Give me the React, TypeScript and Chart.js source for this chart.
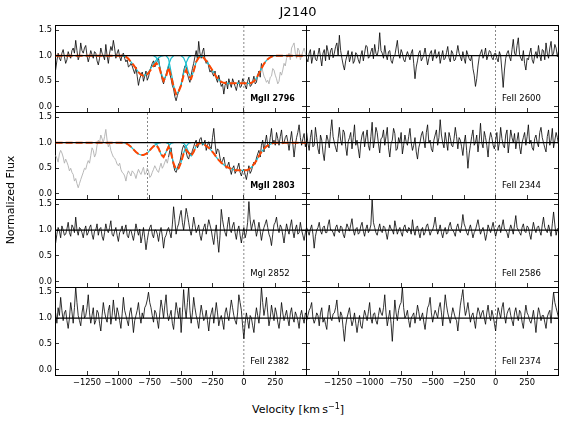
import React, { useEffect, useRef } from "react";
import { Chart, registerables } from "chart.js";

Chart.register(...registerables);

const FONT = "'DejaVu Sans', 'Liberation Sans', sans-serif";
Chart.defaults.font.family = FONT;

// ---------- axes ----------
const SPEC_STEP = 10; // km/s per pixel of the observed spectra
const MODEL_STEP = 20; // km/s per sample of the fitted profiles
const X_MIN = -1505;
const X_MAX = 495;
const Y_MIN = -0.1;
const Y_MAX = 1.6;
const X_TICKS = [-1250, -1000, -750, -500, -250, 0, 250];
const Y_TICKS = [0, 0.5, 1.0, 1.5];
const CONTINUUM = 1.0;
const LABEL_V = 50;
const LABEL_FLUX = 0.16;
const MGII_DOUBLET_V = -769;

// ---------- MgII 2796 ----------
const MGII2796_BLACK_START = -1500;
const MGII2796_BLACK = [
  0.72, 0.9, 1.05, 0.95, 0.9, 1.05, 1.12, 0.98, 0.85, 0.92, 1.08, 1.0, 0.95, 1.1, 1.15, 1.05, 1.3, 1.1, 0.92, 1.0,
  1.25, 1.1, 1.05, 1.15, 1.2, 1.0, 0.88, 0.98, 1.1, 1.02, 0.95, 1.08, 1.05, 0.9, 0.82, 0.95, 1.15, 1.05, 1.0, 0.92,
  1.22, 1.0, 0.85, 1.05, 1.18, 1.1, 1.3, 1.15, 0.95, 1.05, 1.12, 0.98, 0.9, 1.02, 1.05, 0.95, 0.88, 0.92, 0.78, 0.8,
  0.85, 0.8, 0.72, 0.65, 0.78, 0.6, 0.42, 0.55, 0.62, 0.68, 0.5, 0.6, 0.7, 0.52, 0.58, 0.7, 0.78, 0.85, 0.9, 0.78,
  0.82, 0.9, 0.95, 0.78, 0.65, 0.52, 0.45, 0.55, 0.62, 0.72, 0.8, 0.65, 0.55, 0.42, 0.35, 0.2, 0.12, 0.22, 0.3, 0.38,
  0.42, 0.55, 0.7, 0.8, 0.78, 0.65, 0.55, 0.48, 0.62, 0.75, 0.85, 0.98, 1.1, 0.92, 1.28, 1.05, 0.95, 1.08, 1.15, 0.92,
  0.85, 0.9, 0.78, 0.68, 0.72, 0.65, 0.6, 0.7, 0.55, 0.48, 0.62, 0.5, 0.4, 0.45, 0.25, 0.42, 0.5, 0.35, 0.55, 0.45,
  0.38, 0.55, 0.48, 0.4, 0.32, 0.45, 0.52, 0.38, 0.4, 0.55, 0.5, 0.42, 0.35, 0.5, 0.58, 0.4, 0.42, 0.5, 0.6, 0.45,
  0.48, 0.62, 0.7, 0.58, 0.85,
];
const MGII2796_GREY_START = 140;
const MGII2796_GREY = [
  0.85, 0.7, 0.6, 0.55, 0.48, 0.52, 0.45, 0.58, 0.6, 0.75, 0.72, 0.62, 0.55, 0.45, 0.5, 0.68, 0.62, 0.72, 0.85, 0.8,
  0.95, 1.0, 1.05, 0.92, 1.15, 1.2, 1.25, 1.05, 0.95, 1.15, 1.1, 0.92, 1.0, 1.08, 1.15, 1.05, 0.98,
];
const MODEL_START = -1500;
const MODEL_2796 = [
  1, 1, 1, 1, 1, 1, 1, 1, 1, 1,
  1, 1, 1, 1, 1, 1, 1, 1, 1, 1,
  1, 1, 1, 1, 1, 1, 1, 1,
  0.98, 0.94, 0.88, 0.82, 0.75, 0.68, 0.63, 0.61, 0.62, 0.66,
  0.73, 0.8, 0.85, 0.82, 0.65, 0.51, 0.6, 0.77, 0.6, 0.4,
  0.25, 0.3, 0.42, 0.62, 0.72, 0.6, 0.55, 0.7, 0.88, 0.96,
  0.99, 0.96, 0.9, 0.83, 0.75, 0.67, 0.59, 0.53, 0.49, 0.47,
  0.46, 0.46, 0.46, 0.46, 0.46, 0.46, 0.46, 0.46, 0.46, 0.46,
  0.47, 0.5, 0.56, 0.65, 0.75, 0.84, 0.91, 0.95, 0.98, 1.0,
  1, 1, 1, 1, 1, 1, 1, 1, 1, 1, 1, 1, 1,
];
const COMP_2796_1 = [1.0, 0.99, 0.98, 0.94, 0.88, 0.82, 0.75, 0.68, 0.63, 0.61, 0.63, 0.68, 0.76, 0.84, 0.91, 0.96, 0.99, 1.0];
const COMP_2796_2 = [1.0, 0.97, 0.88, 0.68, 0.52, 0.62, 0.82, 0.95, 1.0];
const COMP_2796_3 = [1.0, 0.94, 0.68, 0.42, 0.25, 0.3, 0.45, 0.66, 0.86, 0.97, 1.0];
const COMP_2796_4 = [1.0, 0.96, 0.84, 0.66, 0.57, 0.7, 0.88, 0.97, 1.0];
const COMP_2796_5 = [
  1.0, 0.99, 0.99, 0.96, 0.9, 0.83, 0.75, 0.67, 0.59, 0.53, 0.49, 0.47,
  0.46, 0.46, 0.46, 0.46, 0.46, 0.46, 0.46, 0.46, 0.46, 0.46,
  0.47, 0.5, 0.56, 0.65, 0.75, 0.84, 0.91, 0.95, 0.98, 1.0,
];
const COMP_STARTS = [-980, -720, -620, -500, -380];

// ---------- MgII 2803 ----------
const MGII2803_GREY_START = -1500;
const MGII2803_GREY = [
  0.75, 0.7, 0.62, 0.78, 0.85, 0.8, 0.72, 0.6, 0.68, 0.62, 0.55, 0.45, 0.5, 0.42, 0.38, 0.25, 0.3, 0.2, 0.12, 0.2,
  0.28, 0.35, 0.42, 0.5, 0.48, 0.58, 0.65, 0.6, 0.75, 0.9, 0.85, 0.72, 0.78, 0.95, 1.05, 1.0, 1.15, 1.08, 1.0, 1.12,
  1.26, 1.05, 0.92, 0.98, 0.85, 0.78, 0.72, 0.7, 0.65, 0.58, 0.55, 0.6, 0.48, 0.42, 0.4, 0.35, 0.25, 0.38, 0.45, 0.4,
  0.35, 0.45, 0.42, 0.38, 0.3, 0.4, 0.48, 0.42, 0.38, 0.45, 0.52, 0.38, 0.4, 0.5, 0.45, 0.32, 0.35, 0.42, 0.48, 0.55,
  0.5, 0.45, 0.42, 0.52, 0.6, 0.5, 0.55, 0.62, 0.68, 0.6, 0.72,
];
const MGII2803_BLACK_START = -600;
const MGII2803_BLACK = [
  0.72, 0.85, 0.9, 0.7, 0.55, 0.45, 0.42, 0.5, 0.58, 0.62, 0.75, 0.88, 0.95, 0.9, 0.82, 0.72, 0.68, 0.8, 0.75, 0.85,
  0.92, 1.0, 1.05, 0.9, 0.95, 1.08, 1.1, 0.95, 0.98, 1.05, 0.85, 0.95, 1.02, 0.92, 0.88, 1.1, 1.28, 1.0, 0.78, 0.88,
  0.85, 0.7, 0.6, 0.65, 0.72, 0.58, 0.5, 0.55, 0.62, 0.48, 0.38, 0.5, 0.55, 0.4, 0.45, 0.52, 0.6, 0.42, 0.35, 0.45,
  0.48, 0.38, 0.28, 0.42, 0.55, 0.4, 0.45, 0.55, 0.62, 0.58, 0.7, 0.78, 0.85, 0.72, 0.95, 1.05, 0.82, 1.0, 1.15, 0.95,
  0.9, 1.1, 1.28, 1.0, 1.05, 0.95, 1.2, 1.08, 0.95, 1.12, 1.25, 0.98, 1.0, 1.1, 1.15, 1.02, 0.85, 1.05, 1.22, 0.98,
  0.72, 0.95, 1.1, 1.2, 1.35, 1.1, 0.95, 1.08, 1.18, 0.92, 1.05,
];
const MODEL_2803 = [
  1, 1, 1, 1, 1, 1, 1, 1, 1, 1,
  1, 1, 1, 1, 1, 1, 1, 1, 1, 1,
  1, 1, 1, 1, 1, 1, 1, 1,
  0.99, 0.96, 0.92, 0.87, 0.82, 0.78, 0.76, 0.76, 0.78, 0.82,
  0.88, 0.93, 0.96, 0.89, 0.77, 0.72, 0.82, 0.92, 0.79, 0.59,
  0.48, 0.5, 0.62, 0.79, 0.86, 0.8, 0.74, 0.82, 0.94, 0.99,
  0.99, 0.97, 0.94, 0.9, 0.85, 0.79, 0.72, 0.66, 0.61, 0.57,
  0.53, 0.51, 0.49, 0.47, 0.46, 0.46, 0.46, 0.46, 0.46, 0.48,
  0.52, 0.58, 0.65, 0.74, 0.82, 0.88, 0.93, 0.96, 0.98, 1.0,
  1, 1, 1, 1, 1, 1, 1, 1, 1, 1, 1, 1, 1,
];
const COMP_2803_1 = [1.0, 1.0, 0.99, 0.96, 0.92, 0.87, 0.82, 0.78, 0.76, 0.76, 0.78, 0.82, 0.88, 0.93, 0.97, 0.99, 1.0];
const COMP_2803_2 = [1.0, 0.99, 0.9, 0.77, 0.72, 0.82, 0.94, 0.99, 1.0];
const COMP_2803_3 = [1.0, 0.98, 0.8, 0.59, 0.48, 0.5, 0.62, 0.8, 0.93, 0.99, 1.0];
const COMP_2803_4 = [1.0, 0.99, 0.93, 0.81, 0.74, 0.82, 0.94, 0.99, 1.0];
const COMP_2803_5 = [
  1.0, 0.99, 0.99, 0.97, 0.94, 0.9, 0.85, 0.79, 0.72, 0.66, 0.61, 0.57,
  0.53, 0.51, 0.49, 0.47, 0.46, 0.46, 0.46, 0.46, 0.46,
  0.48, 0.52, 0.58, 0.65, 0.74, 0.82, 0.88, 0.93, 0.96, 0.98, 1.0,
];

// ---------- other transitions (all start at -1500, 10 km/s pixels) ----------
const SPEC_START = -1500;
const FEII2600 = [
  0.95, 0.88, 1.05, 1.12, 0.85, 0.98, 1.1, 0.93, 0.9, 1.02, 1.15, 0.97, 0.8, 1.05, 1.12, 0.9, 1.2, 1.08, 0.92, 1.1,
  1.15, 0.96, 1.05, 1.18, 1.25, 1.0, 1.4, 1.1, 0.95, 0.82, 0.72, 0.9, 1.0, 1.1, 0.88, 0.98, 1.08, 0.85, 0.9, 1.06,
  1.02, 0.92, 0.85, 1.0, 1.1, 0.9, 1.05, 1.2, 1.18, 0.95, 0.98, 1.08, 1.15, 0.94, 1.22, 1.05, 1.0, 1.12, 1.45, 1.1,
  1.05, 0.95, 1.2, 1.02, 0.92, 1.08, 1.1, 0.9, 0.85, 0.98, 1.0, 1.15, 1.3, 1.05, 0.95, 1.12, 1.05, 0.92, 0.88, 1.0,
  1.08, 1.0, 0.92, 1.05, 1.12, 0.85, 0.55, 0.78, 0.9, 1.05, 1.1, 0.9, 0.95, 1.02, 1.15, 0.98, 0.82, 0.95, 1.05, 1.1,
  0.9, 1.02, 1.12, 0.95, 1.0, 1.08, 0.85, 0.98, 1.1, 0.92, 0.95, 1.06, 1.18, 0.96, 0.88, 1.1, 1.05, 0.9, 0.92, 1.04,
  1.2, 1.05, 0.98, 0.9, 1.08, 0.95, 0.85, 1.1, 1.02, 0.94, 0.9, 1.0, 0.75, 0.62, 0.4, 0.55, 0.8, 0.98, 1.05, 1.12,
  0.95, 1.02, 1.15, 0.92, 1.0, 1.1, 1.08, 0.96, 0.92, 1.04, 1.05, 0.95, 0.88, 1.08, 1.0, 0.7, 0.38, 0.72, 0.95, 1.05,
  1.1, 0.98, 0.9, 1.12, 1.32, 1.05, 1.0, 1.2, 1.35, 1.02, 0.95, 0.9, 1.1, 0.85, 0.72, 0.95, 0.92, 1.05, 1.15, 0.92,
  0.85, 1.0, 1.08, 0.95, 1.2, 1.02, 0.9, 1.12, 1.1, 0.92, 1.25, 1.05, 0.95, 1.15, 1.28, 1.0, 1.05, 1.22, 1.15, 0.98,
  1.1,
];
const FEII2344 = [
  1.2, 1.0, 0.85, 1.1, 1.25, 0.92, 0.95, 1.3, 1.1, 0.88, 0.78, 1.15, 1.05, 0.8, 0.65, 0.95, 1.15, 1.05, 0.9, 1.22,
  1.45, 1.12, 1.0, 0.9, 0.82, 1.08, 1.3, 1.05, 0.95, 1.25, 1.2, 0.92, 0.75, 1.02, 1.1, 1.2, 0.88, 1.1, 1.35, 0.95,
  1.05, 0.88, 0.7, 1.0, 1.15, 1.22, 0.92, 1.1, 1.25, 0.95, 0.85, 1.12, 1.4, 0.9, 1.05, 1.3, 1.2, 0.98, 0.8, 1.08,
  1.1, 1.25, 0.95, 1.12, 1.3, 0.9, 0.72, 0.98, 1.05, 1.28, 1.18, 0.85, 0.88, 1.1, 1.0, 1.2, 0.78, 0.95, 1.15, 1.02,
  0.95, 1.12, 1.28, 1.0, 0.85, 0.95, 1.1, 0.82, 0.68, 0.9, 1.0, 1.15, 1.22, 1.05, 0.9, 1.2, 1.35, 1.0, 1.05, 0.88,
  0.82, 1.05, 1.15, 1.25, 0.95, 1.1, 1.45, 1.15, 1.0, 0.9, 1.2, 1.02, 0.85, 1.2, 1.1, 0.95, 0.92, 1.08, 1.3, 1.12,
  0.88, 1.1, 1.05, 0.92, 0.75, 1.0, 1.15, 0.85, 0.5, 0.78, 0.95, 1.12, 1.25, 0.95, 1.0, 1.15, 0.82, 1.05, 1.38, 1.0,
  0.9, 1.22, 1.1, 0.95, 0.72, 1.05, 1.2, 1.1, 0.95, 0.88, 1.05, 1.2, 0.85, 1.0, 1.3, 1.08, 0.95, 0.9, 1.15, 1.25,
  0.8, 1.02, 1.25, 1.1, 1.0, 1.18, 0.88, 1.05, 1.2, 0.92, 0.78, 1.0, 1.1, 1.2, 0.95, 1.12, 1.35, 0.98, 1.05, 0.9,
  0.85, 1.08, 1.15, 1.0, 0.92, 1.2, 1.3, 1.1, 1.0, 0.9, 0.82, 1.12, 1.25, 0.95, 1.05, 1.28, 0.9, 1.05, 1.2, 1.1,
  0.95,
];
const MGI2852 = [
  0.75, 0.92, 1.05, 0.98, 0.85, 1.08, 1.0, 0.9, 0.92, 1.02, 1.15, 0.95, 0.88, 1.1, 1.05, 0.95, 1.25, 1.0, 0.9, 1.05,
  1.02, 0.95, 0.85, 1.0, 1.08, 0.9, 0.95, 1.05, 1.1, 0.92, 0.82, 0.98, 1.0, 1.12, 0.9, 1.02, 1.05, 0.88, 0.8, 0.95,
  1.12, 1.0, 0.95, 1.05, 1.18, 0.92, 0.88, 0.98, 1.05, 0.9, 0.78, 0.95, 1.0, 1.08, 0.92, 1.0, 1.1, 0.9, 0.85, 0.98,
  1.0, 0.9, 0.8, 0.95, 1.12, 1.0, 0.9, 1.02, 0.75, 0.88, 1.05, 0.85, 0.62, 0.8, 0.95, 1.05, 1.1, 0.92, 0.85, 1.0,
  1.0, 0.92, 0.78, 0.95, 1.05, 0.88, 0.65, 0.85, 0.9, 1.0, 1.05, 0.95, 0.85, 1.1, 1.45, 1.2, 0.92, 1.05, 1.12, 1.28,
  1.38, 1.15, 1.0, 1.2, 1.42, 1.3, 1.15, 1.0, 0.9, 1.05, 1.25, 1.1, 0.95, 1.02, 1.1, 0.9, 0.8, 0.95, 1.05, 1.12,
  0.92, 1.05, 1.2, 1.1, 1.0, 0.85, 0.72, 0.95, 1.1, 0.82, 0.57, 0.9, 1.4, 1.2, 1.05, 0.95, 0.88, 1.1, 1.25, 1.0,
  0.95, 1.08, 1.15, 0.95, 0.82, 1.0, 1.08, 0.9, 0.75, 0.92, 1.05, 0.85, 0.95, 1.15, 1.55, 1.2, 1.0, 1.12, 1.2, 1.05,
  0.88, 1.0, 1.15, 0.98, 0.8, 0.95, 1.05, 1.12, 1.2, 1.05, 0.92, 0.85, 0.7, 0.92, 1.1, 1.15, 1.25, 1.05, 0.95, 1.1,
  1.05, 0.9, 0.75, 0.95, 1.12, 1.0, 0.92, 1.08, 1.2, 0.98, 0.85, 1.02, 1.1, 0.92, 0.95, 1.15, 1.0, 0.9, 0.8, 0.95,
  1.05,
];
const FEII2586 = [
  1.05, 0.98, 0.9, 1.02, 1.1, 0.92, 0.65, 0.88, 1.0, 1.05, 1.15, 0.98, 0.92, 1.05, 1.08, 0.95, 0.95, 1.1, 1.2, 1.0,
  1.0, 0.95, 0.88, 1.05, 1.1, 0.98, 0.95, 1.08, 1.05, 0.92, 0.85, 1.0, 1.12, 1.05, 0.98, 1.1, 1.22, 1.0, 0.9, 1.02,
  1.05, 0.92, 0.95, 1.08, 1.15, 0.98, 0.88, 1.02, 1.1, 0.95, 1.0, 1.1, 1.6, 1.15, 1.05, 0.95, 0.9, 1.02, 1.12, 0.98,
  0.95, 1.08, 1.05, 0.95, 0.82, 0.98, 1.1, 1.02, 1.0, 0.92, 1.18, 1.05, 0.92, 1.0, 1.05, 0.95, 0.88, 1.05, 1.1, 0.98,
  0.95, 1.05, 1.02, 0.92, 1.2, 1.0, 0.9, 1.05, 1.08, 0.95, 0.85, 1.0, 1.05, 0.9, 0.95, 1.08, 1.12, 1.0, 0.9, 0.98,
  1.0, 1.1, 1.25, 1.05, 0.92, 1.0, 1.1, 0.95, 0.85, 0.98, 1.05, 0.92, 0.95, 1.08, 1.15, 1.02, 1.0, 0.95, 0.88, 1.05,
  1.12, 1.0, 0.95, 1.08, 1.3, 1.12, 1.05, 0.95, 0.9, 1.02, 1.1, 0.98, 0.85, 0.95, 1.0, 1.1, 1.2, 1.05, 0.92, 1.0,
  1.05, 0.95, 0.8, 0.92, 1.1, 1.02, 0.95, 1.05, 1.15, 1.0, 0.88, 0.98, 1.05, 1.1, 0.95, 1.08, 1.2, 1.02, 1.0, 0.95,
  0.85, 1.0, 1.1, 1.02, 0.92, 1.1, 1.28, 1.05, 1.0, 0.95, 0.9, 1.05, 1.12, 0.98, 0.95, 1.08, 1.05, 0.92, 0.82, 1.0,
  1.15, 1.02, 0.95, 1.05, 1.08, 0.98, 0.9, 1.1, 1.25, 1.05, 1.0, 0.95, 1.1, 1.0, 0.88, 1.12, 1.35, 1.1, 0.9, 1.02,
  1.05,
];
const FEII2382 = [
  1.1, 0.9, 1.2, 1.05, 1.4, 1.15, 0.95, 1.1, 1.15, 0.95, 0.8, 1.0, 1.3, 1.12, 0.9, 1.2, 1.6, 1.3, 1.05, 0.95,
  0.85, 1.1, 1.25, 1.0, 1.05, 1.2, 1.45, 1.1, 0.9, 1.05, 1.2, 0.88, 0.95, 1.15, 1.1, 0.9, 0.75, 1.05, 1.3, 1.12,
  1.0, 0.92, 1.15, 1.25, 0.88, 1.05, 1.35, 1.1, 0.95, 1.2, 1.1, 0.95, 0.8, 1.08, 1.4, 1.15, 1.05, 0.95, 0.85, 1.1,
  1.2, 1.0, 0.72, 0.95, 1.05, 1.15, 1.3, 1.05, 0.9, 1.1, 1.0, 1.2, 1.25, 1.35, 1.5, 1.3, 1.2, 1.05, 0.92, 1.15,
  1.1, 0.95, 0.8, 1.1, 1.35, 1.2, 1.0, 1.25, 1.45, 1.1, 0.95, 1.05, 1.15, 0.9, 0.78, 1.05, 1.3, 1.15, 1.0, 1.2,
  0.72, 1.1, 1.55, 1.2, 1.0, 1.3, 1.6, 1.15, 0.9, 1.1, 1.4, 1.2, 1.05, 0.95, 0.8, 1.05, 1.25, 1.1, 0.95, 1.0,
  1.15, 0.95, 0.75, 1.0, 1.1, 1.2, 0.9, 1.08, 1.3, 1.1, 0.85, 0.98, 1.05, 0.92, 0.78, 1.1, 1.2, 1.05, 0.95, 1.15,
  1.35, 1.2, 1.05, 0.95, 0.88, 1.1, 1.45, 1.3, 1.15, 0.85, 0.6, 0.9, 1.1, 0.95, 0.8, 1.05, 1.0, 0.85, 0.72, 1.0,
  1.2, 1.05, 0.9, 1.15, 1.6, 1.3, 1.05, 1.2, 1.4, 1.1, 0.85, 1.0, 1.25, 1.1, 0.95, 1.2, 1.1, 0.92, 0.8, 1.0,
  1.3, 1.1, 0.95, 1.05, 1.15, 0.98, 0.85, 1.1, 1.2, 1.0, 0.92, 1.12, 1.05, 0.95, 0.8, 1.05, 1.15, 1.0, 0.9, 1.1,
  1.05,
];
const FEII2374 = [
  0.95, 1.05, 1.15, 1.2, 1.3, 1.0, 0.9, 0.98, 1.1, 1.05, 0.85, 1.1, 1.2, 0.92, 1.0, 0.88, 0.78, 1.1, 1.25, 1.0,
  0.95, 1.08, 1.1, 1.2, 1.35, 1.05, 0.92, 1.12, 1.05, 0.8, 0.55, 0.85, 1.0, 1.1, 1.2, 1.0, 0.85, 0.95, 1.1, 0.9,
  0.72, 0.9, 1.05, 0.85, 0.8, 1.0, 1.15, 1.05, 0.95, 1.12, 1.3, 1.0, 0.9, 1.08, 1.1, 0.95, 0.88, 1.05, 1.2, 1.1,
  1.05, 1.2, 1.45, 1.1, 0.85, 1.0, 1.15, 0.9, 0.55, 0.95, 1.35, 1.1, 0.95, 1.15, 1.25, 1.3, 1.6, 1.2, 1.0, 1.05,
  1.15, 0.95, 0.82, 1.0, 1.05, 1.1, 0.9, 1.05, 1.25, 1.12, 0.95, 1.02, 1.1, 0.92, 0.78, 1.0, 1.2, 1.25, 1.4, 1.1,
  0.92, 1.05, 1.15, 1.08, 1.0, 1.2, 1.3, 1.1, 0.85, 1.15, 1.45, 1.25, 1.1, 1.0, 0.9, 1.05, 1.2, 1.1, 1.0, 0.95,
  0.75, 1.0, 1.25, 1.4, 1.55, 1.25, 1.05, 1.15, 1.3, 1.1, 0.92, 1.05, 1.1, 0.95, 0.8, 1.05, 1.2, 1.12, 1.0, 1.1,
  1.15, 1.0, 0.88, 1.1, 1.25, 1.05, 0.95, 1.15, 1.05, 0.9, 0.75, 1.0, 1.2, 1.1, 1.0, 1.2, 1.3, 1.05, 0.9, 1.08,
  1.15, 1.2, 1.05, 0.95, 0.85, 1.1, 1.2, 1.05, 0.95, 1.15, 1.1, 0.92, 0.8, 1.05, 1.25, 1.1, 1.05, 0.95, 0.9, 1.0,
  1.15, 0.95, 0.72, 1.0, 1.2, 1.1, 0.95, 1.05, 1.05, 0.92, 0.8, 1.02, 1.1, 1.15, 0.9, 1.25, 1.5, 1.3, 1.2, 1.1,
  1.0,
];

// ---------- panel definitions ----------
type Series = { start: number; step: number; values: number[] };
type PanelDef = {
  label: string;
  bold: boolean;
  row: number;
  col: number;
  black: Series;
  grey?: Series;
  model?: Series;
  comps?: Series[];
  markers: number[];
};

const spec = (start: number, values: number[]): Series => ({ start, step: SPEC_STEP, values });
const prof = (start: number, values: number[]): Series => ({ start, step: MODEL_STEP, values });

const PANELS: PanelDef[] = [
  {
    label: "MgII 2796", bold: true, row: 0, col: 0,
    black: spec(MGII2796_BLACK_START, MGII2796_BLACK),
    grey: spec(MGII2796_GREY_START, MGII2796_GREY),
    model: prof(MODEL_START, MODEL_2796),
    comps: [COMP_2796_1, COMP_2796_2, COMP_2796_3, COMP_2796_4, COMP_2796_5].map((v, i) => prof(COMP_STARTS[i], v)),
    markers: [0],
  },
  { label: "FeII 2600", bold: false, row: 0, col: 1, black: spec(SPEC_START, FEII2600), markers: [0] },
  {
    label: "MgII 2803", bold: true, row: 1, col: 0,
    black: spec(MGII2803_BLACK_START, MGII2803_BLACK),
    grey: spec(MGII2803_GREY_START, MGII2803_GREY),
    model: prof(MODEL_START, MODEL_2803),
    comps: [COMP_2803_1, COMP_2803_2, COMP_2803_3, COMP_2803_4, COMP_2803_5].map((v, i) => prof(COMP_STARTS[i], v)),
    markers: [0, MGII_DOUBLET_V],
  },
  { label: "FeII 2344", bold: false, row: 1, col: 1, black: spec(SPEC_START, FEII2344), markers: [0] },
  { label: "MgI 2852", bold: false, row: 2, col: 0, black: spec(SPEC_START, MGI2852), markers: [0] },
  { label: "FeII 2586", bold: false, row: 2, col: 1, black: spec(SPEC_START, FEII2586), markers: [0] },
  { label: "FeII 2382", bold: false, row: 3, col: 0, black: spec(SPEC_START, FEII2382), markers: [0] },
  { label: "FeII 2374", bold: false, row: 3, col: 1, black: spec(SPEC_START, FEII2374), markers: [0] },
];

// ---------- layout (pixels) ----------
const ROW_EDGES = [25, 112, 199, 287, 375];
const COL_LEFT = [15, 304];
const COL_WIDTH = [293, 256];
const Y_AXIS_W = 40;
const X_AXIS_H = 24;

const toPoints = (s: Series) => s.values.map((y, i) => ({ x: s.start + i * s.step, y }));
const fmtX = (v: number) => (v < 0 ? "\u2212" + Math.abs(v) : String(v));

function line(data: any[], color: string, width: number, order: number, dash: number[] = []) {
  return {
    data,
    xAxisID: "x",
    yAxisID: "y",
    borderColor: color,
    backgroundColor: color,
    borderWidth: width,
    borderDash: dash,
    pointRadius: 0,
    pointHoverRadius: 0,
    fill: false,
    tension: 0,
    order,
  };
}

function buildConfig(p: PanelDef, isLeft: boolean, isBottom: boolean): any {
  const datasets: any[] = [];
  datasets.push(line([{ x: X_MIN, y: CONTINUUM }, { x: X_MAX, y: CONTINUUM }], "#000", 1.2, 1));
  if (p.model) datasets.push(line(toPoints(p.model), "#ff4500", 2, 2, [7, 3]));
  (p.comps || []).forEach((c) => datasets.push(line(toPoints(c), "#17becf", 1.2, 3)));
  datasets.push(line(toPoints(p.black), "#000", 0.8, 4));
  if (p.grey) datasets.push(line(toPoints(p.grey), "#b0b0b0", 0.9, 5));
  p.markers.forEach((m) => datasets.push(line([{ x: m, y: Y_MIN }, { x: m, y: Y_MAX }], "#555", 0.7, 6, [2, 2])));

  const tickFont = { family: FONT, size: 8.3 };
  const grid = { display: true, drawOnChartArea: false, drawTicks: true, tickLength: -4, color: "#000", lineWidth: 0.8 };
  const border = { display: true, color: "#000", width: 1 };
  const zeroPad = (s: any) => { s.paddingLeft = 0; s.paddingRight = 0; s.paddingTop = 0; s.paddingBottom = 0; };
  const setY = (s: any) => { s.ticks = Y_TICKS.map((value) => ({ value })); };
  const setX = (s: any) => { s.ticks = X_TICKS.map((value) => ({ value })); };

  const labelPlugin = {
    id: "panelLabel",
    afterDatasetsDraw(chart: any) {
      const { ctx, scales } = chart;
      ctx.save();
      ctx.font = `${p.bold ? "bold 8px" : "8.5px"} ${FONT}`;
      ctx.fillStyle = "#000";
      ctx.textAlign = "left";
      ctx.textBaseline = "middle";
      ctx.fillText(p.label, scales.x.getPixelForValue(LABEL_V), scales.y.getPixelForValue(LABEL_FLUX));
      ctx.restore();
    },
  };

  return {
    type: "line",
    data: { datasets },
    plugins: [labelPlugin],
    options: {
      responsive: false,
      animation: false,
      events: [],
      layout: { padding: { top: 2, bottom: isBottom ? 0 : 2, left: isLeft ? 0 : 2, right: 2 } },
      plugins: { legend: { display: false }, tooltip: { enabled: false } },
      scales: {
        x: {
          type: "linear", position: "bottom", min: X_MIN, max: X_MAX,
          afterBuildTicks: setX,
          afterFit: (s: any) => { s.height = isBottom ? X_AXIS_H : 0; zeroPad(s); },
          ticks: { display: isBottom, autoSkip: false, maxRotation: 0, minRotation: 0, padding: 7, color: "#000", font: tickFont, callback: (v: any) => fmtX(Number(v)) },
          grid, border,
        },
        x2: {
          type: "linear", position: "top", min: X_MIN, max: X_MAX,
          afterFit: (s: any) => { s.height = 0; zeroPad(s); },
          ticks: { display: false }, grid: { display: false }, border,
        },
        y: {
          type: "linear", position: "left", min: Y_MIN, max: Y_MAX,
          afterBuildTicks: setY,
          afterFit: (s: any) => { s.width = isLeft ? Y_AXIS_W : 0; zeroPad(s); },
          ticks: { display: isLeft, padding: 7, color: "#000", font: tickFont, callback: (v: any) => Number(v).toFixed(1) },
          grid, border,
        },
        y2: {
          type: "linear", position: "right", min: Y_MIN, max: Y_MAX,
          afterBuildTicks: setY,
          afterFit: (s: any) => { s.width = 0; zeroPad(s); },
          ticks: { display: false }, grid, border,
        },
      },
    },
  };
}

function Panel({ p }: { p: PanelDef }) {
  const ref = useRef<HTMLCanvasElement>(null);
  const isLeft = p.col === 0;
  const isBottom = p.row === ROW_EDGES.length - 2;
  const left = COL_LEFT[p.col];
  const width = COL_WIDTH[p.col];
  const plotH = ROW_EDGES[p.row + 1] - ROW_EDGES[p.row];
  const top = ROW_EDGES[p.row] - 2;
  const height = isBottom ? plotH + 2 + X_AXIS_H : plotH + 4;
  useEffect(() => {
    if (!ref.current) return;
    const chart = new Chart(ref.current, buildConfig(p, isLeft, isBottom));
    return () => chart.destroy();
  }, []);
  return (
    <canvas
      ref={ref}
      width={width}
      height={height}
      style={{ position: "absolute", left, top, width, height }}
    />
  );
}

export default function App() {
  return (
    <div style={{ position: "fixed", left: 0, top: 0, width: 565, height: 425, background: "#fff", fontFamily: FONT, color: "#000" }}>
      {PANELS.map((p, i) => (
        <Panel key={i} p={p} />
      ))}
      <div style={{ position: "absolute", left: 248, top: 4, width: 100, textAlign: "center", fontSize: 13, lineHeight: "16px" }}>
        J2140
      </div>
      <div style={{ position: "absolute", left: 198, top: 403, width: 200, textAlign: "center", fontSize: 11, lineHeight: "14px", whiteSpace: "nowrap" }}>
        Velocity [km&#8201;s<span style={{ fontSize: 8, position: "relative", top: -4 }}>−1</span>]
      </div>
      <div style={{ position: "absolute", left: -49, top: 193, width: 120, height: 14, textAlign: "center", fontSize: 11, lineHeight: "14px", transform: "rotate(-90deg)", whiteSpace: "nowrap" }}>
        Normalized Flux
      </div>
    </div>
  );
}
